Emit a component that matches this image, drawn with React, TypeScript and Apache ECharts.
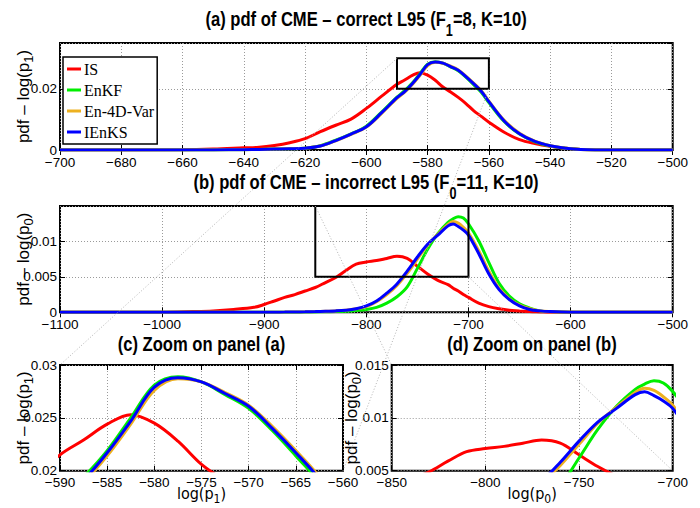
import React, { useEffect, useRef } from "react";
import * as echarts from "echarts";

// ---------- data ----------
const seriesNames = ["IS", "EnKF", "En-4D-Var", "IEnKS"];
const seriesColors = ["#ff0000", "#00ee00", "#EDB120", "#0000ff"];

// panel (a): correct L95, x = log(p1)
const xA = [-700, -660, -650, -640, -635, -630, -625, -620, -615, -610, -605, -600, -595, -590, -587.5, -585, -582.5, -580, -577.5, -575, -572.5, -570, -567.5, -565, -562.5, -560, -555, -550, -545, -540, -535, -530, -520, -500];
const isA = [0, 0.0001, 0.0003, 0.0007, 0.0009, 0.0015, 0.0024, 0.0037, 0.006, 0.0081, 0.0101, 0.0136, 0.0176, 0.0215, 0.0229, 0.0244, 0.0253, 0.0245, 0.0228, 0.0206, 0.019, 0.0172, 0.0152, 0.0129, 0.011, 0.0091, 0.0058, 0.0034, 0.0021, 0.0012, 0.0006, 0.0002, 0.00003, 0];
const enkfA = [0, 0, 0.00002, 0.0001, 0.0002, 0.0003, 0.0004, 0.0006, 0.0014, 0.0032, 0.0053, 0.0078, 0.0124, 0.0173, 0.0194, 0.0219, 0.025, 0.0281, 0.0289, 0.0284, 0.0272, 0.0259, 0.0238, 0.0214, 0.0189, 0.0155, 0.0093, 0.0052, 0.0027, 0.0013, 0.0006, 0.0002, 0.00002, 0];
const en4dA = [0, 0, 0.00002, 0.0001, 0.0002, 0.0003, 0.0004, 0.0006, 0.0013, 0.003, 0.0051, 0.0075, 0.012, 0.0169, 0.0189, 0.0214, 0.0244, 0.0276, 0.0287, 0.0284, 0.0274, 0.0262, 0.0242, 0.0219, 0.0194, 0.016, 0.0097, 0.0055, 0.0029, 0.0014, 0.0006, 0.0002, 0.00002, 0];
const ienksA = [0, 0, 0.00002, 0.0001, 0.0002, 0.0003, 0.0004, 0.0006, 0.0013, 0.0031, 0.0052, 0.0076, 0.0122, 0.0171, 0.0191, 0.0217, 0.0247, 0.0279, 0.0288, 0.0284, 0.0273, 0.0261, 0.024, 0.0217, 0.0192, 0.0158, 0.0095, 0.0053, 0.0028, 0.0014, 0.0006, 0.0002, 0.00002, 0];

// panel (b): incorrect L95, x = log(p0)
const xB = [-1100, -1000, -970, -950, -930, -910, -900, -890, -880, -870, -860, -850, -840, -830, -820, -810, -800, -790, -780, -770, -760, -750, -740, -730, -720, -715, -710, -705, -700, -690, -680, -670, -660, -650, -640, -630, -620, -600, -500];
const isB = [0, 0, 0.0001, 0.0002, 0.0004, 0.0007, 0.0011, 0.0016, 0.0021, 0.0025, 0.003, 0.0035, 0.0042, 0.0049, 0.0059, 0.0068, 0.0071, 0.0073, 0.0076, 0.0079, 0.0076, 0.0065, 0.0054, 0.0045, 0.0039, 0.0034, 0.003, 0.0025, 0.0021, 0.0013, 0.0008, 0.0005, 0.0003, 0.0002, 0.0001, 0.00005, 0, 0, 0];
const enkfB = [0, 0, 0, 0, 0, 0, 0, 0.00001, 0.00001, 0.00002, 0.00003, 0.00005, 0.00008, 0.0001, 0.00015, 0.00025, 0.0004, 0.0007, 0.0013, 0.0022, 0.0036, 0.0062, 0.0089, 0.0111, 0.0127, 0.0132, 0.0135, 0.0133, 0.0125, 0.0101, 0.007, 0.0041, 0.0023, 0.0012, 0.0006, 0.0002, 0.0001, 0.00002, 0];
const en4dB = [0, 0, 0, 0, 0, 0, 0.00001, 0.00002, 0.00003, 0.00005, 0.00007, 0.0001, 0.00015, 0.0002, 0.0003, 0.0005, 0.0008, 0.0015, 0.0025, 0.0038, 0.0055, 0.0075, 0.0095, 0.011, 0.0124, 0.0128, 0.0126, 0.012, 0.0112, 0.0087, 0.0058, 0.0034, 0.0019, 0.001, 0.0005, 0.0002, 0.0001, 0.00002, 0];
const ienksB = [0, 0, 0, 0, 0, 0, 0.00001, 0.00002, 0.00003, 0.00005, 0.00007, 0.0001, 0.00015, 0.0002, 0.0003, 0.0005, 0.0009, 0.0016, 0.0027, 0.004, 0.0058, 0.0078, 0.0096, 0.0109, 0.0122, 0.01247, 0.0121, 0.0116, 0.0109, 0.0083, 0.0054, 0.0032, 0.0018, 0.0009, 0.0004, 0.0002, 0.0001, 0.00002, 0];

// axis ranges / ticks
const rangeA = { x: [-700, -500, 20], y: [0, 0.035, 0.02] };
const rangeB = { x: [-1100, -500, 100], y: [0, 0.015, 0.005] };
const zoomA = { x: [-590, -560, 5], y: [0.02, 0.03, 0.005] };
const zoomB = { x: [-850, -700, 50], y: [0.005, 0.015, 0.005] };

const titles = [
  ["(a) pdf of CME – correct L95 (F", "1", "=8, K=10)"],
  ["(b) pdf of CME – incorrect L95 (F", "0", "=11, K=10)"],
  ["(c) Zoom on panel (a)", "", ""],
  ["(d) Zoom on panel (b)", "", ""],
];
const yNames = [["pdf – log(p", "1", ")"], ["pdf – log(p", "0", ")"], ["pdf – log(p", "1", ")"], ["pdf – log(p", "0", ")"]];
const xNames = [null, null, ["log(p", "1", ")"], ["log(p", "0", ")"]];

// ---------- styling ----------
const NARROW = "'Liberation Sans Narrow', 'DejaVu Sans Condensed', 'Liberation Sans', Arial, sans-serif";
const SANS = "'Liberation Sans', Arial, sans-serif";
const SERIF = "'Liberation Serif', 'Times New Roman', serif";

const grids = [
  { left: 60, top: 43, width: 612.7, height: 107 },
  { left: 60, top: 206, width: 612.7, height: 106.3 },
  { left: 60, top: 365, width: 283, height: 105.7 },
  { left: 391.7, top: 365, width: 281, height: 105.7 },
];

function richStyles(size: number, weight: string, family: string, drop: number) {
  const s = Math.round(size * 0.78);
  return {
    n: { fontSize: size, fontFamily: family, fontWeight: weight, color: "#000", lineHeight: size, verticalAlign: "top" },
    s: { fontSize: s, fontFamily: family, fontWeight: weight, color: "#000", lineHeight: s, padding: [drop, 0, 0, 0], verticalAlign: "top" },
  };
}
function richText(parts: string[]) {
  if (!parts[1]) return `{n|${parts[0]}}`;
  return `{n|${parts[0]}}{s|${parts[1]}}{n|${parts[2]}}`;
}
const fmt = (v: number) => String(Number(v.toFixed(6))).replace("-", "\u2212");

function pairs(xs: number[], ys: number[]) {
  return xs.map((x, i) => [x, ys[i]]);
}

export default function App() {
  const ref = useRef<HTMLDivElement>(null);
  useEffect(() => {
    if (!ref.current) return;
    const chart = echarts.init(ref.current, null, { renderer: "svg" });
    const ranges = [rangeA, rangeB, zoomA, zoomB];
    const xAxis: any[] = [];
    const yAxis: any[] = [];
    const tickFont = { color: "#000", fontFamily: SANS, fontSize: 13.5 };
    ranges.forEach((r, g) => {
      const xn = xNames[g];
      const hideMaxY = g < 2;
      xAxis.push({
        type: "value", gridIndex: g, min: r.x[0], max: r.x[1], interval: r.x[2],
        axisLine: { show: false },
        axisTick: { inside: true, length: 5, lineStyle: { color: "#000", width: 1 } },
        axisLabel: { ...tickFont, margin: 5, formatter: fmt, hideOverlap: false },
        splitLine: { show: true, lineStyle: { color: "#9a9a9a", type: [1, 2], width: 1 } },
        name: xn ? richText(xn) : "",
        nameLocation: "middle",
        nameGap: 15,
        nameMoveOverlap: false,
        nameTextStyle: { rich: richStyles(16, "normal", NARROW, 7), verticalAlign: "top" },
      });
      xAxis.push({
        type: "value", gridIndex: g, position: "top", min: r.x[0], max: r.x[1], interval: r.x[2],
        axisLine: { show: false },
        axisTick: { inside: true, length: 5, lineStyle: { color: "#000", width: 1 } },
        axisLabel: { show: false }, splitLine: { show: false },
      });
      yAxis.push({
        type: "value", gridIndex: g, min: r.y[0], max: r.y[1], interval: r.y[2],
        axisLine: { show: false },
        axisTick: { inside: true, length: 5, lineStyle: { color: "#000", width: 1 } },
        axisLabel: { ...tickFont, margin: 3, formatter: fmt, showMaxLabel: !hideMaxY },
        splitLine: { show: true, lineStyle: { color: "#9a9a9a", type: [1, 2], width: 1 } },
        name: richText(yNames[g]),
        nameLocation: "middle",
        nameRotate: 90,
        nameGap: g === 3 ? 32 : 28,
        nameMoveOverlap: false,
        nameTextStyle: { rich: richStyles(17, "normal", SANS, 7) },
      });
      yAxis.push({
        type: "value", gridIndex: g, position: "right", min: r.y[0], max: r.y[1], interval: r.y[2],
        axisLine: { show: false },
        axisTick: { inside: true, length: 5, lineStyle: { color: "#000", width: 1 } },
        axisLabel: { show: false }, splitLine: { show: false },
      });
    });

    const dataSets = [
      [xA, [isA, enkfA, en4dA, ienksA]],
      [xB, [isB, enkfB, en4dB, ienksB]],
      [xA, [isA, enkfA, en4dA, ienksA]],
      [xB, [isB, enkfB, en4dB, ienksB]],
    ] as [number[], number[][]][];
    const series: any[] = [];
    dataSets.forEach(([xs, ys], g) => {
      ys.forEach((y, k) => {
        series.push({
          type: "line", name: seriesNames[k], xAxisIndex: 2 * g, yAxisIndex: 2 * g,
          data: pairs(xs, y), symbol: "none", showSymbol: false, smooth: 0.35,
          lineStyle: { width: 3, color: seriesColors[k] }, itemStyle: { color: seriesColors[k] },
          z: 3 + k, clip: true,
        });
      });
    });

    chart.setOption({
      animation: false,
      backgroundColor: "#fff",
      grid: grids.map((g) => ({ ...g, show: true, borderColor: "#000", borderWidth: 2, backgroundColor: "#fff", containLabel: false })),
      xAxis, yAxis, series,
      legend: {
        data: seriesNames, orient: "vertical", left: 63, top: 57, icon: "rect", itemWidth: 14, itemHeight: 3,
        itemGap: 5, padding: [4, 3, 4, 4], backgroundColor: "#fff", borderColor: "#000", borderWidth: 1.5,
        textStyle: { fontFamily: SERIF, fontSize: 16, color: "#000", padding: [0, 0, 0, -2] }, selectedMode: false, z: 20,
      },
    });

    const px = (g: number, pt: number[]) => chart.convertToPixel({ xAxisIndex: 2 * g, yAxisIndex: 2 * g }, pt) as number[];
    const a1 = px(0, [zoomA.x[0], zoomA.y[1]]), a2 = px(0, [zoomA.x[1], zoomA.y[0]]);
    const b1 = px(1, [zoomB.x[0], zoomB.y[1]]), b2 = px(1, [zoomB.x[1], zoomB.y[0]]);
    const c1 = px(2, [zoomA.x[0], zoomA.y[1]]), c2 = px(2, [zoomA.x[1], zoomA.y[0]]);
    const d1 = px(3, [zoomB.x[0], zoomB.y[1]]), d2 = px(3, [zoomB.x[1], zoomB.y[0]]);
    const box = (p: number[], q: number[]) => ({
      type: "rect", z: 50, shape: { x: p[0], y: p[1], width: q[0] - p[0], height: q[1] - p[1] },
      style: { fill: "none", stroke: "#000", lineWidth: 2 }, silent: true,
    });
    const link = (p: number[], q: number[]) => ({
      type: "line", z: 60, shape: { x1: p[0], y1: p[1], x2: q[0], y2: q[1] },
      style: { stroke: "#b4b4b4", lineWidth: 1, lineDash: [1, 2] }, silent: true,
    });
    const titleCenters = [366, 366, 201.5, 532];
    const titleTops = [8, 171, 333, 333];
    const titleTexts = titles.map((t, i) => ({
      type: "text", z: 70, x: titleCenters[i], y: titleTops[i], scaleX: 0.79, silent: true,
      style: { text: richText(t), rich: richStyles(21, "bold", SANS, 14), align: "center", verticalAlign: "top" },
    }));
    chart.setOption({
      graphic: [box(a1, a2), box(b1, b2), link(a1, c1), link(a2, c2), link(b1, d1), link(b2, d2), ...titleTexts],
    });

    return () => chart.dispose();
  }, []);
  return <div ref={ref} style={{ position: "fixed", left: 0, top: 0, width: 700, height: 508 }} />;
}
